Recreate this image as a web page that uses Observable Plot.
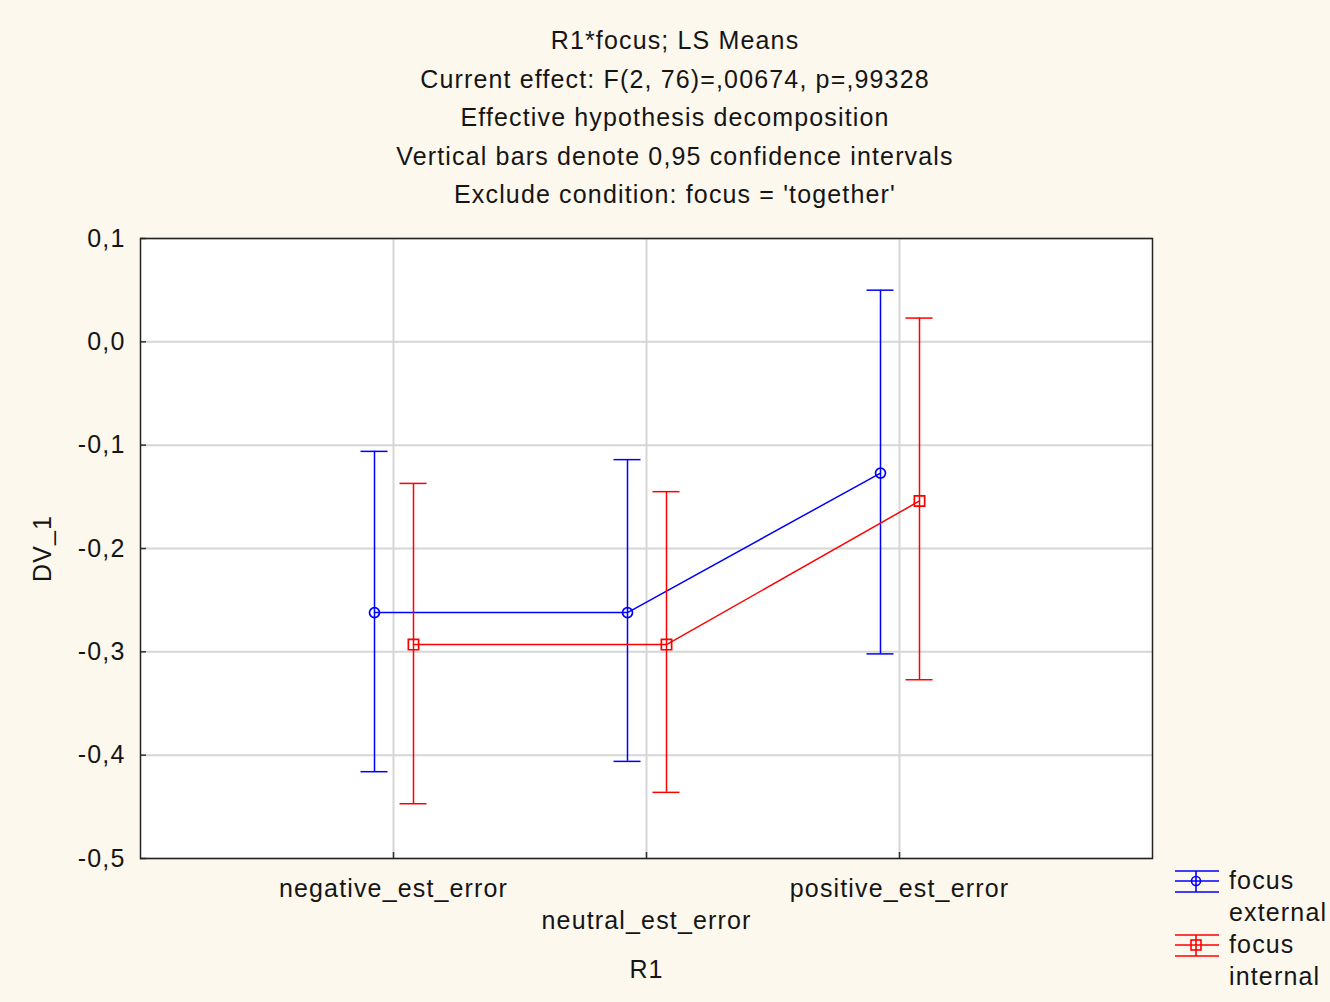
<!DOCTYPE html>
<html>
<head>
<meta charset="utf-8">
<script src="https://cdn.jsdelivr.net/npm/d3@7"></script>
<script src="https://cdn.jsdelivr.net/npm/@observablehq/plot@0.6"></script>
<style>
  html, body { margin: 0; padding: 0; background: #fdf8ed; }
  body { width: 1330px; height: 1002px; position: relative; overflow: hidden;
         font-family: "Liberation Sans", Arial, sans-serif; color: #151515; letter-spacing: 1.15px; }
  #title { position: absolute; left: 0; top: 21px; width: 1350px; text-align: center;
           font-size: 25px; line-height: 38.6px; }
  #chart { position: absolute; left: 0; top: 214px; }
  #legend { position: absolute; left: 1174px; top: 864px; font-size: 25px; line-height: 32px; }
  .lg-row { position: relative; padding-left: 55px; }
  .lg-row svg { position: absolute; left: 0; top: 2px; }
</style>
</head>
<body>
<div id="title"></div>
<div id="chart"></div>
<div id="legend"></div>
<script>
// ---- data ----
const categories = ["negative_est_error", "neutral_est_error", "positive_est_error"];
const titleLines = [
  "R1*focus; LS Means",
  "Current effect: F(2, 76)=,00674, p=,99328",
  "Effective hypothesis decomposition",
  "Vertical bars denote 0,95 confidence intervals",
  "Exclude condition: focus = 'together'"
];
const seriesNames = ["focus external", "focus internal"];
const extMean = [-0.262, -0.262, -0.127];
const extLo   = [-0.416, -0.406, -0.302];
const extHi   = [-0.106, -0.114,  0.050];
const intMean = [-0.293, -0.293, -0.154];
const intLo   = [-0.447, -0.436, -0.327];
const intHi   = [-0.137, -0.145,  0.023];
const yTicks = [0.1, 0.0, -0.1, -0.2, -0.3, -0.4, -0.5];
const yLabel = "DV_1";
const xLabel = "R1";

// ---- build tables ----
const ext = categories.map((c, i) => ({i, cat: c, mean: extMean[i], lo: extLo[i], hi: extHi[i]}));
const int = categories.map((c, i) => ({i, cat: c, mean: intMean[i], lo: intLo[i], hi: intHi[i]}));

document.getElementById("title").innerHTML = titleLines.map(t => `<div>${t}</div>`).join("");

const blue = "#0000ff", red = "#ff0000";
const fmt = d => d.toFixed(1).replace(".", ",");
const xIdx = categories.map((c, i) => i);

function series(data, color, dx, symbol, r) {
  return [
    Plot.line(data, {x: "i", y: "mean", stroke: color, strokeWidth: 1.5, dx}),
    Plot.ruleX(data, {x: "i", y1: "lo", y2: "hi", stroke: color, strokeWidth: 1.5, dx}),
    Plot.ruleY(data, {x1: "i", x2: "i", y: "lo", stroke: color, strokeWidth: 1.5, dx, insetLeft: -13.5, insetRight: -13.5}),
    Plot.ruleY(data, {x1: "i", x2: "i", y: "hi", stroke: color, strokeWidth: 1.5, dx, insetLeft: -13.5, insetRight: -13.5}),
    Plot.dot(data, {x: "i", y: "mean", stroke: color, strokeWidth: 1.7, symbol, r, fill: "none", dx})
  ];
}

const chart = Plot.plot({
  width: 1330,
  height: 788,
  marginTop: 24,
  marginBottom: 144,
  marginLeft: 140,
  marginRight: 178,
  style: {fontFamily: "'Liberation Sans', Arial, sans-serif", fontSize: "25px", color: "#151515", background: "transparent", letterSpacing: "1.15px"},
  x: {type: "linear", domain: [-1, 3]},
  y: {domain: [-0.5, 0.1]},
  marks: [
    Plot.frame({fill: "white", stroke: "none"}),
    Plot.gridX(xIdx, {stroke: "#d6d6d6", strokeOpacity: 1, strokeWidth: 2}),
    Plot.gridY(yTicks, {stroke: "#d6d6d6", strokeOpacity: 1, strokeWidth: 2}),
    // inward tick marks
    Plot.ruleX(xIdx, {stroke: "#333", strokeWidth: 1.5, insetTop: 614}),
    Plot.ruleY(yTicks, {stroke: "#333", strokeWidth: 1.5, insetRight: 1006}),
    Plot.frame({stroke: "#222", strokeWidth: 1.5}),
    Plot.axisY(yTicks, {tickSize: 0, tickPadding: 15, tickFormat: fmt, label: null, fontSize: 25}),
    Plot.axisX([0, 2], {tickSize: 0, tickPadding: 21, tickFormat: i => categories[i], label: null, fontSize: 25}),
    Plot.axisX([1], {tickSize: 0, tickPadding: 53, tickFormat: i => categories[i], label: null, fontSize: 25}),
    Plot.text([yLabel], {frameAnchor: "left", dx: -98, rotate: -90, textAnchor: "middle", fontSize: 25, fill: "#151515"}),
    Plot.text([xLabel], {frameAnchor: "bottom", dy: 111, lineAnchor: "middle", textAnchor: "middle", fontSize: 25, fill: "#151515"}),
    ...series(ext, blue, -19, "circle", 5),
    ...series(int, red, 20, "square", 5.8)
  ]
});
document.getElementById("chart").appendChild(chart);

// ---- legend ----
function icon(color, kind) {
  const mark = kind === "circle"
    ? `<circle cx="22" cy="15" r="4.5" fill="none" stroke="${color}" stroke-width="1.6"/>`
    : `<rect x="17" y="10" width="10" height="10" fill="none" stroke="${color}" stroke-width="1.6"/>`;
  return `<svg width="48" height="30" viewBox="0 0 48 30">
    <line x1="1" x2="45" y1="5" y2="5" stroke="${color}" stroke-width="1.6"/>
    <line x1="1" x2="45" y1="15" y2="15" stroke="${color}" stroke-width="1.6"/>
    <line x1="1" x2="45" y1="26" y2="26" stroke="${color}" stroke-width="1.6"/>
    <line x1="22" x2="22" y1="5" y2="26" stroke="${color}" stroke-width="1.6"/>
    ${mark}</svg>`;
}
const legendDefs = [[seriesNames[0], blue, "circle"], [seriesNames[1], red, "square"]];
document.getElementById("legend").innerHTML = legendDefs.map(([name, c, k]) => {
  const [a, b] = name.split(" ");
  return `<div class="lg-row">${icon(c, k)}<div>${a}</div><div>${b}</div></div>`;
}).join("");
</script>
</body>
</html>
